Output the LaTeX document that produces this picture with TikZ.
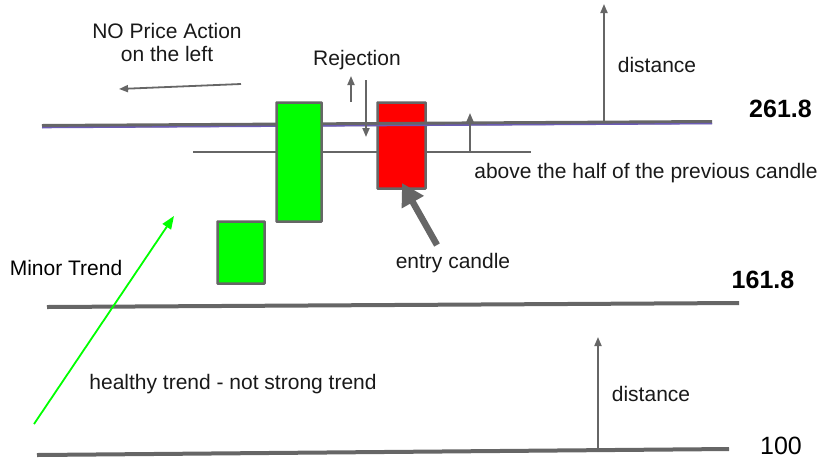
\documentclass[tikz,border=0pt]{standalone}
\usepackage{fontspec}
\setmainfont{Liberation Sans}
\usetikzlibrary{arrows.meta}
\definecolor{lg}{HTML}{666666}
\definecolor{pur}{HTML}{6B5BB5}
\definecolor{cgreen}{HTML}{00FF00}
\definecolor{cred}{HTML}{FF0000}
\begin{document}
\begin{tikzpicture}[x=1pt,y=-1pt,
  lbl/.style={inner sep=0pt,font=\fontsize{21}{24}\selectfont,text=black!90},
  num/.style={inner sep=0pt,font=\fontsize{25}{28}\selectfont\bfseries},
  level/.style={draw=lg,line width=4pt},
  candle/.style={draw=lg,line width=2.5pt,inner sep=0pt,rounded corners=0.5pt},
  garrow/.style={draw=lg,line width=1.8pt,-{Triangle[width=7pt,length=9pt]}},
]
\useasboundingbox (0,0) rectangle (821,459);
% coordinates
\coordinate (tl) at (42,126);
\coordinate (tr) at (712,122);
\coordinate (hl) at (193,152);
\coordinate (hr) at (531,152);
\coordinate (ml) at (47,307);
\coordinate (mr) at (739,303);
\coordinate (bl) at (37,455);
\coordinate (br) at (729,449);
% half line
\draw[lg,line width=1.8pt] (hl) -- (hr);
% red candle
\node[candle,fill=cred,minimum width=48pt,minimum height=86pt] (red) at (401.5,145.5) {};
% top level
\draw[level] (tl) -- (tr);
\draw[pur,line width=1.4pt] ([yshift=-1.6pt]tl) -- ([yshift=-1.6pt]tr);
% green candles
\node[candle,fill=cgreen,minimum width=45pt,minimum height=119pt] (gbig) at (299,162) {};
\node[candle,fill=cgreen,minimum width=47pt,minimum height=62pt] (gsmall) at (241,252.5) {};
% other levels
\draw[level] (ml) -- (mr);
\draw[level] (bl) -- (br);
% texts
\node[lbl,align=center] (nopa) at (167,42) {NO Price Action\\[-1pt]on the left};
\node[lbl] (rej) at (357,60) {Rejection};
\node[lbl] (dist1) at (657,65) {distance};
\node[num] (n2618) at (780.5,109) {261.8};
\node[lbl] (above) at (646,173) {above the half of the previous candle};
\node[lbl] (entry) at (453,263) {entry candle};
\node[lbl,text=black] (minor) at (66,268) {Minor Trend};
\node[num] (n1618) at (763,280) {161.8};
\node[lbl] (healthy) at (233,384) {healthy trend - not strong trend};
\node[lbl] (dist2) at (651,394) {distance};
\node[inner sep=0pt,font=\fontsize{25}{28}\selectfont] (n100) at (781,446) {100};
% arrows
\coordinate (pa1) at (241,84);
\coordinate (pa2) at (119,89);
\draw[garrow] (pa1) -- (pa2);
\coordinate (ru1) at (351,102);
\coordinate (ru2) at (351,76);
\draw[garrow] (ru1) -- (ru2);
\coordinate (rd1) at (366,80);
\coordinate (rd2) at (366,137);
\draw[garrow] (rd1) -- (rd2);
\coordinate (d1a) at (604,121);
\coordinate (d1b) at (604,4);
\draw[garrow] (d1a) -- (d1b);
\coordinate (sa1) at (470,152);
\coordinate (sa2) at (470,113);
\draw[garrow] (sa1) -- (sa2);
\coordinate (d2a) at (598,450);
\coordinate (d2b) at (598,337);
\draw[garrow] (d2a) -- (d2b);
\coordinate (ea1) at (437,245);
\coordinate (ea2) at (402,183);
\draw[lg,line width=6.5pt,-{Triangle[width=24pt,length=22pt]}] (ea1) -- (ea2);
\coordinate (ga1) at (34,424);
\coordinate (ga2) at (174,216);
\draw[cgreen,line width=1.8pt,-{Triangle[width=10pt,length=13pt]}] (ga1) -- (ga2);
\end{tikzpicture}
\end{document}
